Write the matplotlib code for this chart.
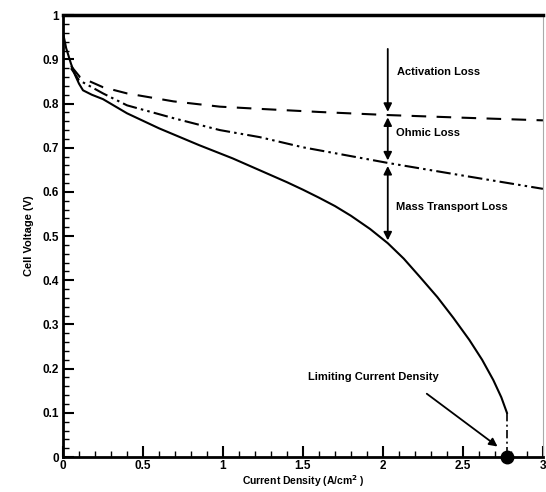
import numpy as np
import matplotlib.pyplot as plt
from matplotlib.ticker import MultipleLocator

plt.rcParams['font.family'] = ['Liberation Sans', 'DejaVu Sans']
plt.rcParams['font.weight'] = 'bold'

# polarization curve (solid)
j_cell = [0.0, 0.02, 0.05, 0.075, 0.1, 0.125, 0.18, 0.25, 0.4, 0.6, 0.85, 1.06, 1.23, 1.4,
          1.5, 1.6, 1.7, 1.8, 1.92, 2.03, 2.13, 2.23, 2.34, 2.44, 2.54, 2.62, 2.69, 2.74, 2.775]
v_cell = [0.96, 0.925, 0.89, 0.865, 0.845, 0.83, 0.82, 0.81, 0.778, 0.744, 0.706, 0.676, 0.649, 0.622,
          0.605, 0.587, 0.568, 0.546, 0.516, 0.484, 0.449, 0.408, 0.362, 0.315, 0.265, 0.22, 0.174, 0.135, 0.1]

# after activation loss (dashed)
j_act = [0.05, 0.106, 0.25, 0.4, 0.69, 0.98, 1.23, 1.6, 2.03, 2.5, 3.0]
v_act = [0.885, 0.86, 0.837, 0.823, 0.805, 0.793, 0.788, 0.781, 0.774, 0.768, 0.762]

# after ohmic loss (dash-dot-dot)
j_ohm = [0.05, 0.1, 0.25, 0.4, 0.69, 0.98, 1.23, 1.5, 2.04, 2.5, 3.0]
v_ohm = [0.88, 0.853, 0.823, 0.796, 0.767, 0.74, 0.724, 0.701, 0.665, 0.637, 0.607]

j_lim = 2.775
j_arrow = 2.03

fig = plt.figure(figsize=(5.46, 4.92), dpi=100)
ax = fig.add_axes([0.1154, 0.0711, 0.879, 0.898])

ax.plot(j_cell, v_cell, color='black', lw=1.5)
ax.plot(j_act, v_act, color='black', lw=1.5, dashes=(7, 5))
ax.plot(j_ohm, v_ohm, color='black', lw=1.5, dashes=(7, 2, 1.2, 2, 1.2, 2))
ax.plot([j_lim, j_lim], [v_cell[-1], 0], color='black', lw=1.2, dashes=(5, 2, 1.2, 2))
ax.plot([j_lim], [0], 'o', color='black', ms=9, clip_on=False, zorder=5)

arr = dict(arrowstyle='-|>', color='black', lw=1.3, mutation_scale=12)
darr = dict(arrowstyle='<|-|>', color='black', lw=1.3, mutation_scale=12)
ax.annotate('', xy=(j_arrow, 0.775), xytext=(j_arrow, 0.93), arrowprops=arr)
ax.annotate('', xy=(j_arrow, 0.775), xytext=(j_arrow, 0.665), arrowprops=darr)
ax.annotate('', xy=(j_arrow, 0.665), xytext=(j_arrow, 0.484), arrowprops=darr)
ax.annotate('', xy=(2.73, 0.02), xytext=(2.26, 0.147), arrowprops=arr)

ax.text(2.09, 0.871, 'Activation Loss', fontsize=8, fontweight='bold', va='center')
ax.text(2.08, 0.733, 'Ohmic Loss', fontsize=8, fontweight='bold', va='center')
ax.text(2.08, 0.566, 'Mass Transport Loss', fontsize=8, fontweight='bold', va='center')
ax.text(1.53, 0.181, 'Limiting Current Density', fontsize=8, fontweight='bold', va='center')

ax.set_xlim(0, 3)
ax.set_ylim(0, 1)
ax.xaxis.set_minor_locator(MultipleLocator(0.1))
ax.yaxis.set_minor_locator(MultipleLocator(0.02))
ax.set_xticks([0, 0.5, 1, 1.5, 2, 2.5, 3], ['0', '0.5', '1', '1.5', '2', '2.5', '3'])
ax.set_yticks(np.arange(0, 1.01, 0.1), ['0', '0.1', '0.2', '0.3', '0.4', '0.5', '0.6', '0.7', '0.8', '0.9', '1'])
ax.tick_params(which='major', direction='in', length=8, width=1.5, labelsize=8.5, pad=2)
ax.tick_params(which='minor', direction='in', length=4, width=1)
ax.tick_params(axis='x', top=False)
ax.tick_params(axis='y', right=False, pad=3)
for lab in ax.get_xticklabels() + ax.get_yticklabels():
    lab.set_fontweight('bold')

ax.spines['left'].set_linewidth(2)
ax.spines['bottom'].set_linewidth(2)
ax.spines['top'].set_linewidth(2.5)
ax.spines['right'].set_color('#aaaaaa')
ax.spines['right'].set_linewidth(0.8)

ax.set_xlabel('Current Density (A/cm$^2$ )', fontsize=7.5, fontweight='bold')
ax.xaxis.set_label_coords(0.5, -0.037)
ax.set_ylabel('Cell Voltage (V)', fontsize=8, fontweight='bold', labelpad=6)

fig.savefig('out.png', dpi=100)
